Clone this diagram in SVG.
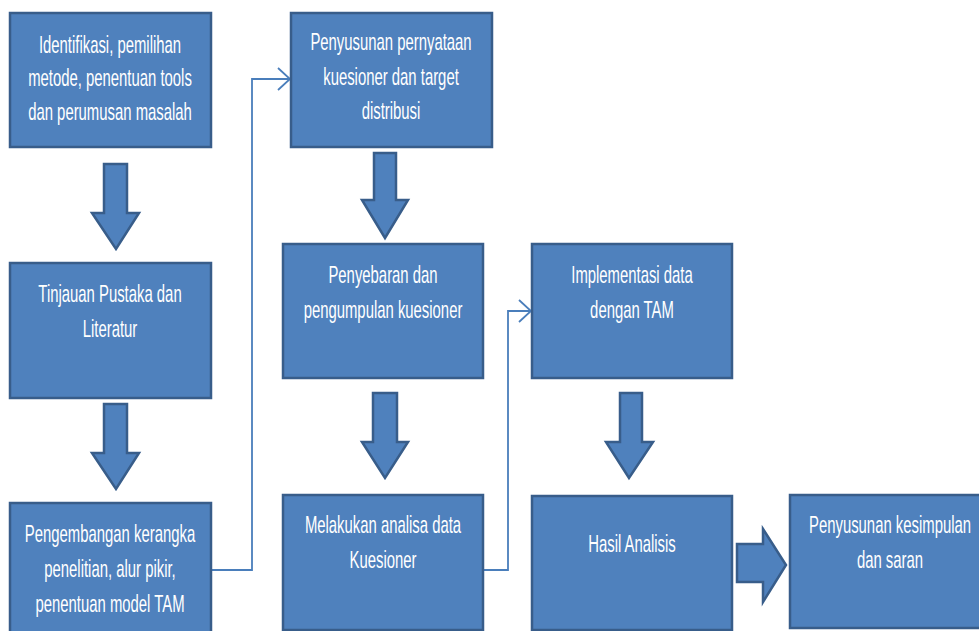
<svg xmlns="http://www.w3.org/2000/svg" width="979" height="631" viewBox="0 0 979 631">
<style>
.box{fill:#4F81BD;stroke:#385D8A;stroke-width:2.5}
.blk{fill:#4F81BD;stroke:#385D8A;stroke-width:2.5;stroke-linejoin:miter}
.t{font-family:"Liberation Sans",Arial,sans-serif;font-size:16px;fill:#FFFFFF;text-anchor:middle}
.con{fill:none;stroke:#4A7EBB;stroke-width:1.8}
</style>
<defs>
<marker id="open" viewBox="0 0 14 24" refX="13" refY="12" markerWidth="14" markerHeight="24" markerUnits="userSpaceOnUse" orient="auto">
<path d="M1,1 L13,12 L1,23" fill="none" stroke="#4A7EBB" stroke-width="1.8"/>
</marker>
</defs>
<rect width="979" height="631" fill="#FFFFFF"/>
<g id="connectors">
<path class="con" d="M211,570 H252 V79 H290" marker-end="url(#open)"/>
<path class="con" d="M483,570 H508 V311 H531" marker-end="url(#open)"/>
<polygon class="blk" points="104,164 127,164 127,213 139,213 116,249 92,213 104,213"/>
<polygon class="blk" points="104,404 127,404 127,453 139,453 116,489 92,453 104,453"/>
<polygon class="blk" points="374,153 396,153 396,200 408,200 385,238 362,200 374,200"/>
<polygon class="blk" points="373,393 397,393 397,442 408,442 385,478 362,442 373,442"/>
<polygon class="blk" points="620,393 642,393 642,442 653,442 629,478 606,442 620,442"/>
<polygon class="blk" points="737,544 763,544 763,529 786,565 763,602 763,582 737,582"/>
</g>
<g id="n1"><rect class="box" x="10" y="13" width="201" height="134"/>
<text class="t" transform="matrix(0.93 0 0 1.55 110 53)">Identifikasi, pemilihan</text>
<text class="t" transform="matrix(0.93 0 0 1.55 110 86)">metode, penentuan tools</text>
<text class="t" transform="matrix(0.93 0 0 1.55 110 120)">dan perumusan masalah</text></g>
<g id="n2"><rect class="box" x="10" y="263" width="201" height="135"/>
<text class="t" transform="matrix(0.93 0 0 1.55 110 302)">Tinjauan Pustaka dan</text>
<text class="t" transform="matrix(0.93 0 0 1.55 110 337)">Literatur</text></g>
<g id="n3"><rect class="box" x="10" y="503" width="201" height="135"/>
<text class="t" transform="matrix(0.93 0 0 1.55 110 542)">Pengembangan kerangka</text>
<text class="t" transform="matrix(0.93 0 0 1.55 110 577)">penelitian, alur pikir,</text>
<text class="t" transform="matrix(0.93 0 0 1.55 110 612)">penentuan model TAM</text></g>
<g id="n4"><rect class="box" x="291" y="13" width="201" height="134"/>
<text class="t" transform="matrix(0.93 0 0 1.55 391 50)">Penyusunan pernyataan</text>
<text class="t" transform="matrix(0.93 0 0 1.55 391 85)">kuesioner dan target</text>
<text class="t" transform="matrix(0.93 0 0 1.55 391 119)">distribusi</text></g>
<g id="n5"><rect class="box" x="283" y="244" width="200" height="134"/>
<text class="t" transform="matrix(0.93 0 0 1.55 383 283)">Penyebaran dan</text>
<text class="t" transform="matrix(0.93 0 0 1.55 383 318)">pengumpulan kuesioner</text></g>
<g id="n6"><rect class="box" x="283" y="495" width="200" height="135"/>
<text class="t" transform="matrix(0.93 0 0 1.55 383 533)">Melakukan analisa data</text>
<text class="t" transform="matrix(0.93 0 0 1.55 383 568)">Kuesioner</text></g>
<g id="n7"><rect class="box" x="532" y="244" width="200" height="134"/>
<text class="t" transform="matrix(0.93 0 0 1.55 632 283)">Implementasi data</text>
<text class="t" transform="matrix(0.93 0 0 1.55 632 318)">dengan TAM</text></g>
<g id="n8"><rect class="box" x="532" y="496" width="200" height="134"/>
<text class="t" transform="matrix(0.93 0 0 1.55 632 552)">Hasil Analisis</text></g>
<g id="n9"><rect class="box" x="790" y="495" width="200" height="133"/>
<text class="t" transform="matrix(0.93 0 0 1.55 890 533)">Penyusunan kesimpulan</text>
<text class="t" transform="matrix(0.93 0 0 1.55 890 568)">dan saran</text></g>
</svg>
